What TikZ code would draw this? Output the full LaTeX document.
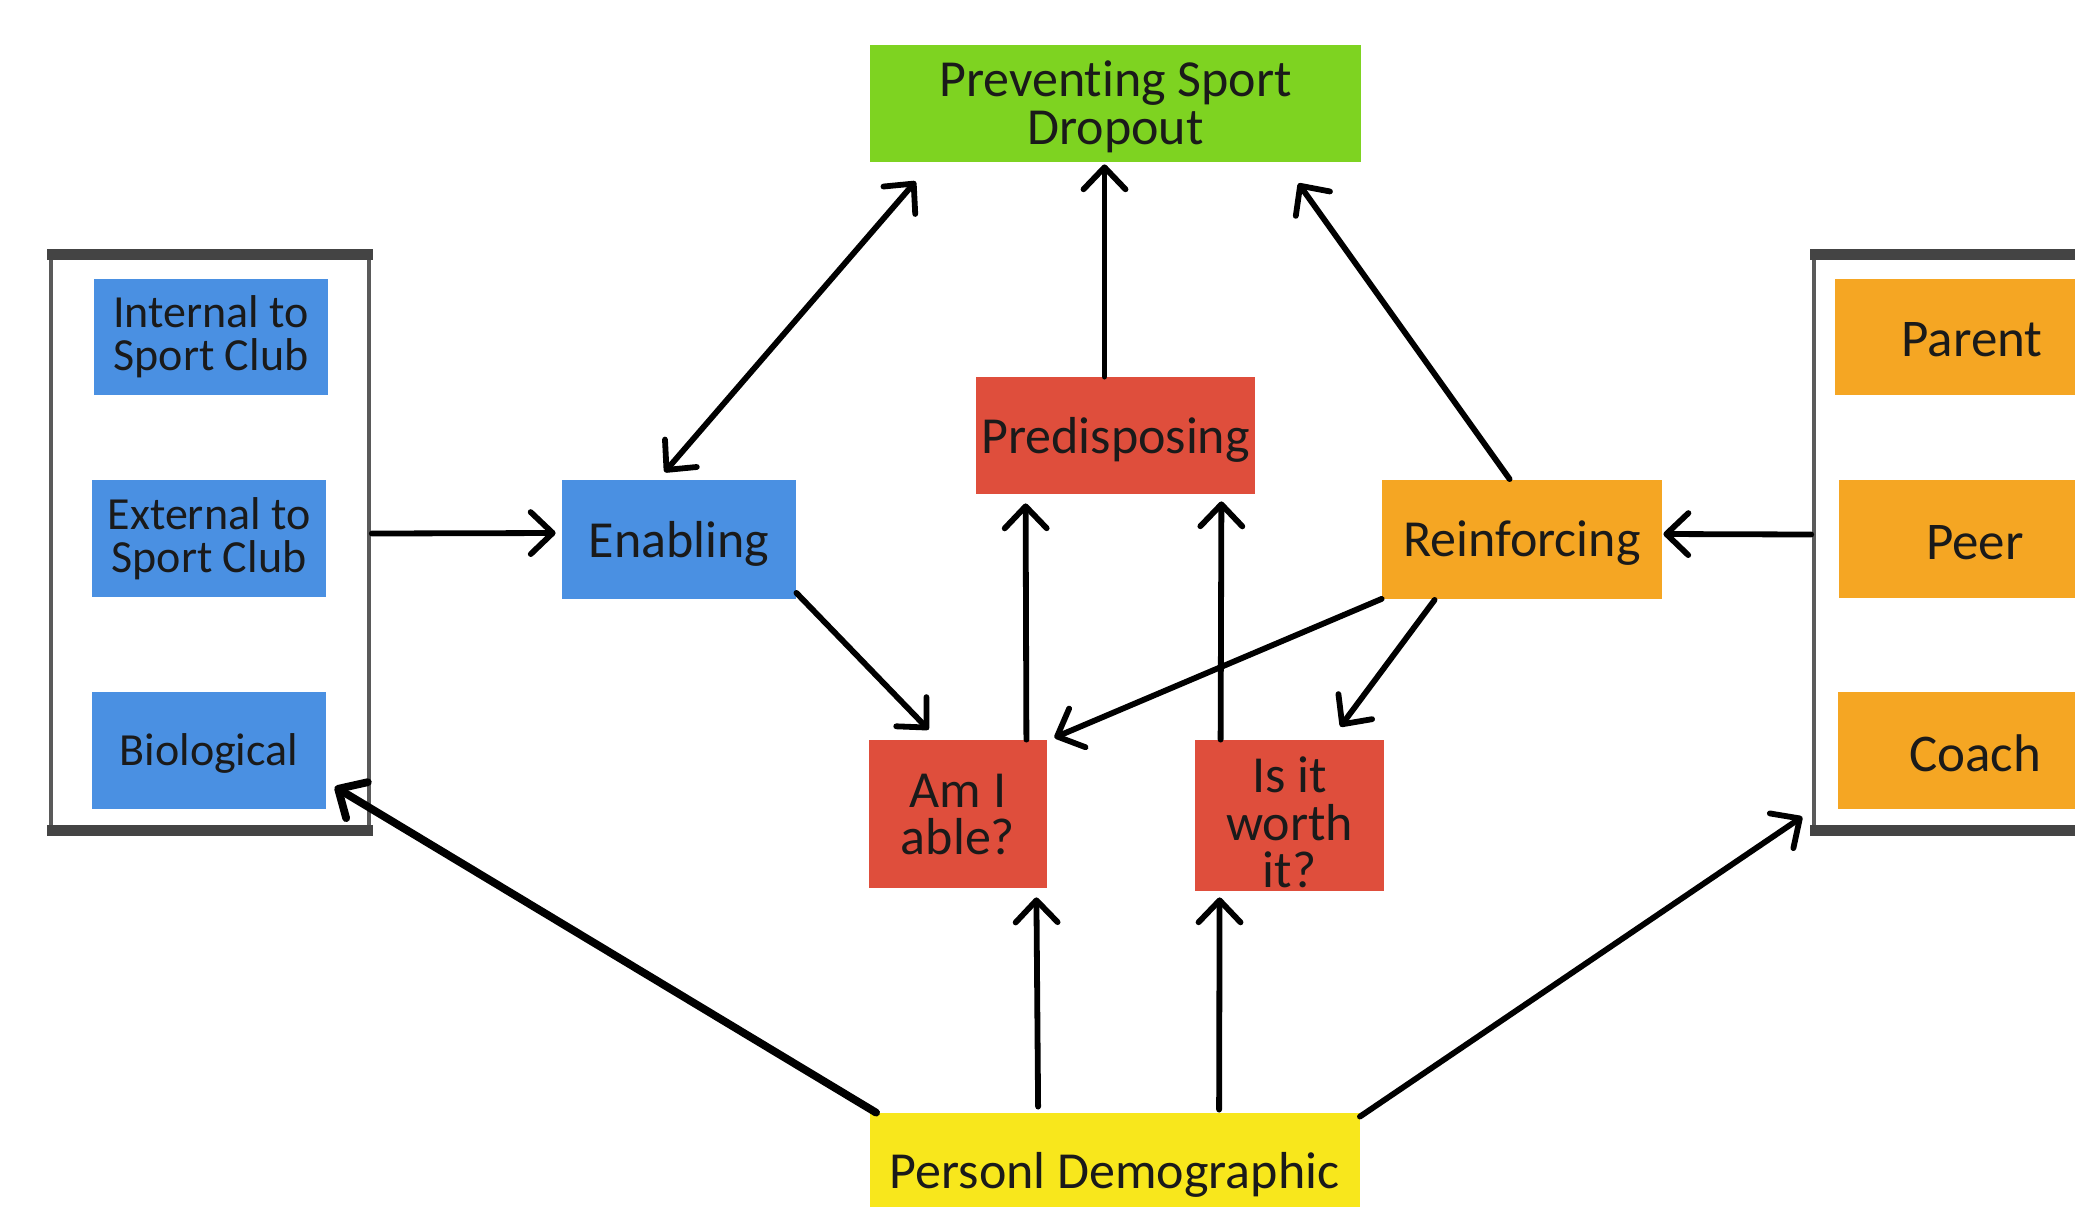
\documentclass[tikz,border=0pt]{standalone}
\usepackage{fontspec}
\setmainfont{Carlito}[RawFeature={-liga;-clig;-calt}]
\usetikzlibrary{arrows.meta,calc}
\definecolor{cblue}{HTML}{4A90E2}
\definecolor{cgreen}{HTML}{7ED321}
\definecolor{cred}{HTML}{DF4E3C}
\definecolor{corange}{HTML}{F5A623}
\definecolor{cyellow}{HTML}{F8E71C}
\definecolor{cframe}{HTML}{5A5A5A}
\definecolor{cbar}{HTML}{444444}
\definecolor{ctext}{HTML}{1A1A1A}
% #1: height of first baseline above node centre; #2: lines separated by \cr
\newcommand{\boxtxt}[2]{\raisebox{#1}[0pt][0pt]{\vtop{\lineskiplimit=-100pt\lineskip=0pt\halign{\hfil##\hfil\cr #2\cr}}}}
\begin{document}
\begin{tikzpicture}[x=0.5pt,y=-0.5pt,
  >={Straight Barb[length=11pt,width=21pt,round]},
  box/.style={rectangle, inner sep=0pt, text=ctext,
    font=\fontsize{26}{23.5}\selectfont},
  leftbox/.style={box, fill=cblue, minimum width=117pt, minimum height=58.5pt,
    font=\fontsize{23}{21.5}\selectfont},
  rightbox/.style={box, fill=corange, minimum width=137pt, minimum height=58.5pt,
    font=\fontsize{26.5}{24}\selectfont},
  frame/.style={rectangle, draw=cframe, line width=1.8pt, fill=white, inner sep=0pt},
  bar/.style={draw=cbar, line width=5.5pt, shorten <=-1pt, shorten >=-1pt},
  arr/.style={->, line width=2.9pt, line cap=round, line join=round},
  darr/.style={<->, line width=2.9pt, line cap=round, line join=round},
  boldarr/.style={->, line width=3.9pt, line cap=round, line join=round}
]
\useasboundingbox (0,0) rectangle (2075,1206);
\clip (0,0) rectangle (2075,1206);

% frames
\node[frame, minimum width=159pt, minimum height=286.5pt] (lf) at (210,542.5) {};
\draw[bar] (lf.north west) -- (lf.north east);
\draw[bar] (lf.south west) -- (lf.south east);
\node[frame, minimum width=168pt, minimum height=286.5pt] (rf) at (1982,542.5) {};
\draw[bar] (rf.north west) -- (rf.north east);
\draw[bar] (rf.south west) -- (rf.south east);

% left group
\node[leftbox, minimum height=58pt] (internal) at (211,337) {\boxtxt{4.8pt}{Internal to\cr Sport Club}};
\node[leftbox] (external) at (209,538.5) {\boxtxt{4.3pt}{External to\cr Sport Club}};
\node[leftbox] (bio) at (209,750.5) {\boxtxt{-7.3pt}{Biological}};

% right group
\node[rightbox, minimum height=58pt] (parent) at (1972,337) {\boxtxt{-9.8pt}{Parent}};
\node[rightbox, minimum width=136pt, minimum height=59pt] (peer) at (1975,539) {\boxtxt{-10pt}{Peer}};
\node[rightbox] (coach) at (1975,750.5) {\boxtxt{-10.3pt}{Coach}};

% centre nodes
\node[box, fill=cgreen, minimum width=245.5pt, minimum height=58.5pt,
  font=\fontsize{26}{24}\selectfont] (green) at (1115.5,103.5) {\boxtxt{3.3pt}{Preventing Sport\cr Dropout}};
\node[box, fill=cred, minimum width=139.5pt, minimum height=58.5pt] (pred) at (1115.5,435.5) {\boxtxt{-9pt}{Predisposing}};
\node[box, fill=cblue, minimum width=117pt, minimum height=59.5pt] (enab) at (679,539) {\boxtxt{-9.3pt}{Enabling}};
\node[box, fill=corange, minimum width=140pt, minimum height=59.5pt] (reinf) at (1522,539) {\boxtxt{-8.8pt}{Reinforcing}};
\node[box, fill=cred, minimum width=89pt, minimum height=74pt] (ami) at (958,814) {\boxtxt{3.5pt}{Am I\cr able?}};
\node[box, fill=cred, minimum width=94.5pt, minimum height=75.5pt,
  font=\fontsize{26}{23.75}\selectfont] (isit) at (1289.5,815.5) {\boxtxt{11.5pt}{Is it\cr worth\cr it?}};
\node[box, fill=cyellow, minimum width=245pt, minimum height=59.5pt] (pd) at (1114.5,1172.5) {\boxtxt{-7.8pt}{Personl Demographic}};

% connectors
\draw[darr] ($(enab.north west)+(103,-7)$) -- ($(green.south west)+(46,19)$);
\draw[arr] ($(pred.north)+(-11,0)$) -- ($(green.south)+(-11,2)$);
\draw[arr] ($(reinf.north west)+(128,0)$) -- ($(green.south east)+(-63,21)$);
\draw[arr] ($(lf.east)+(1,-9)$) -- ($(enab.west)+(-6,-6)$);
\draw[arr] ($(rf.west)+(-1,-8)$) -- ($(reinf.east)+(1,-5)$);
\draw[arr] ($(enab.south east)+(0,-6)$) -- ($(ami.north west)+(60,-10)$);
\draw[arr] (reinf.south west) -- ($(ami.north east)+(7,-2)$);
\draw[arr] ($(reinf.south west)+(53,1)$) -- ($(isit.north east)+(-44,-13)$);
\draw[arr] ($(ami.north east)+(-21,0)$) -- ($(pred.south west)+(50,9)$);
\draw[arr] ($(isit.north west)+(26,0)$) -- ($(pred.south east)+(-34,7)$);
\draw[arr] ($(pd.north west)+(169,-6)$) -- ($(ami.south east)+(-11,9)$);
\draw[arr] ($(pd.north west)+(350,-3)$) -- ($(isit.south west)+(25,6)$);
\draw[boldarr] ($(pd.north west)+(7,0)$) -- ($(lf.south east)+(-36,-44)$);
\draw[arr] ($(pd.north east)+(0,4)$) -- ($(rf.south west)+(-10,-14)$);
\end{tikzpicture}
\end{document}
